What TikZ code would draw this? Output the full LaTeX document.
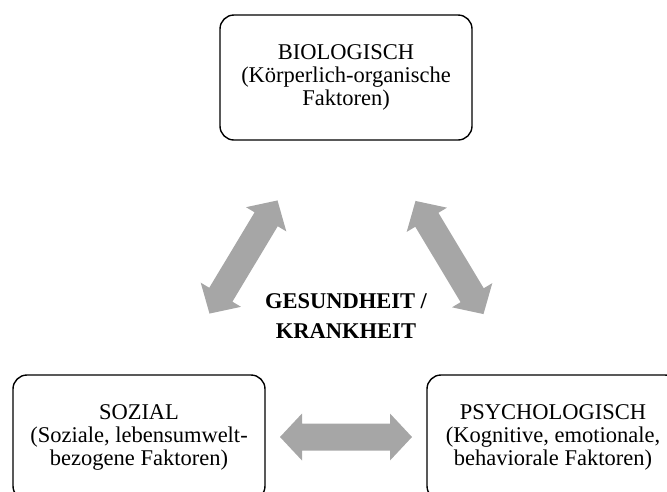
\documentclass[tikz,border=0pt]{standalone}
\usepackage{fontspec}
\setmainfont{Liberation Serif}
\definecolor{arrowgray}{RGB}{166,166,166}
\tikzset{
  factor/.style={draw=black, line width=1.4pt, rounded corners=14pt,
    minimum width=252pt, minimum height=125pt, inner sep=0pt,
    align=center, font=\fontsize{22.5}{23}\selectfont},
  centre/.style={align=center, inner sep=0pt,
    font=\fontsize{22.5}{30}\selectfont\bfseries},
  % broad two-headed block arrow, drawn along its local x axis
  twoway/.pic={
    \fill[arrowgray] (-66,0) -- (-44,-23.5) -- (-44,-13.5) -- (44,-13.5)
      -- (44,-23.5) -- (66,0) -- (44,23.5) -- (44,13.5) -- (-44,13.5)
      -- (-44,23.5) -- cycle;
  }
}
\begin{document}
\begin{tikzpicture}[x=1pt,y=-1pt]
  \useasboundingbox (0,0) rectangle (667,491);
  \clip (0,0) rectangle (667,491);

  % the three groups of factors
  \node[factor] (bio) at (346,77.5)
    {BIOLOGISCH\\(Körperlich-organische\\Faktoren)};
  \node[factor] (soz) at (139,437.5)
    {SOZIAL\\(Soziale, lebensumwelt-\\bezogene Faktoren)};
  \node[factor] (psy) at (553,437.5)
    {PSYCHOLOGISCH\\(Kognitive, emotionale,\\behaviorale Faktoren)};

  % centre label
  \node[centre] (mid) at (346,316) {GESUNDHEIT /\\KRANKHEIT};

  % mutual influences
  \coordinate (bs) at (243.5,257);
  \coordinate (bp) at (449.5,257.5);
  \coordinate (sp) at (346,437);
  \pic[rotate=59] at (bs) {twoway};
  \pic[rotate=-59] at (bp) {twoway};
  \pic at (sp) {twoway};
\end{tikzpicture}
\end{document}
